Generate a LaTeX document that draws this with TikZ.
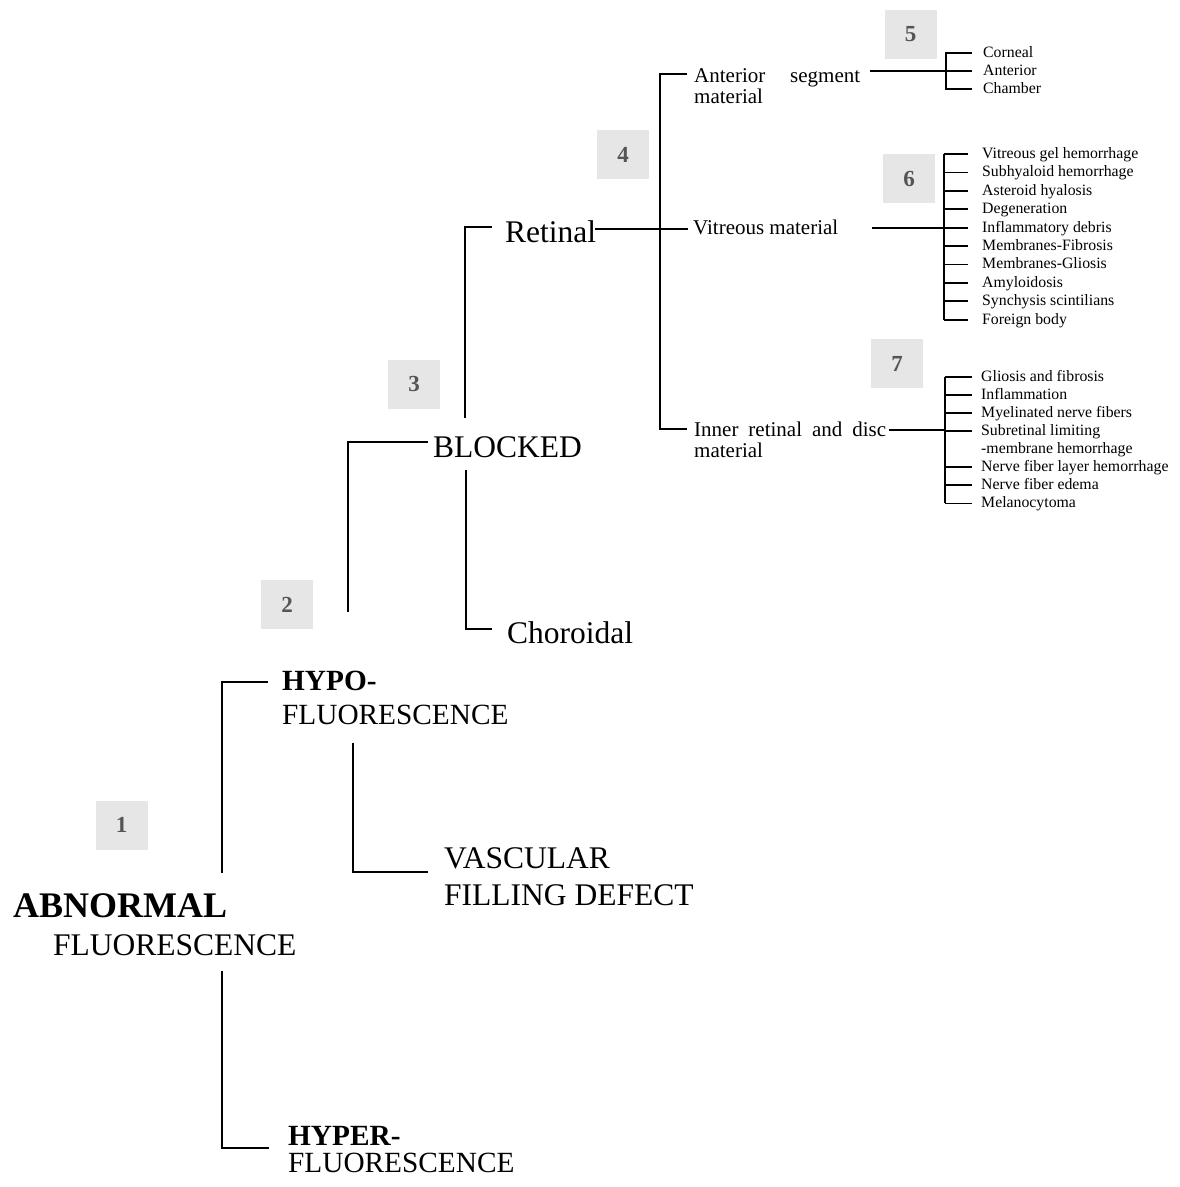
\documentclass[tikz,border=0pt]{standalone}
\usepackage{fontspec}
\setmainfont{Liberation Serif}
\definecolor{boxgray}{RGB}{230,230,230}
\definecolor{numgray}{RGB}{85,85,85}
\tikzset{
  conn/.style={line width=1.8pt, line join=miter},
  big/.style={anchor=base west, inner sep=0pt, font=\fontsize{31.5}{36}\selectfont},
  bigb/.style={anchor=base west, inner sep=0pt, font=\bfseries\fontsize{36}{40}\selectfont},
  hf/.style={anchor=base west, inner sep=0pt, font=\fontsize{29.3}{34}\selectfont},
  hfb/.style={anchor=base west, inner sep=0pt, font=\bfseries\fontsize{29.3}{34}\selectfont},
  med/.style={anchor=base west, inner sep=0pt, font=\fontsize{21}{25}\selectfont},
  small/.style={anchor=base west, inner sep=0pt, font=\fontsize{15.8}{18}\selectfont},
  numbox/.style={fill=boxgray, minimum width=52pt, minimum height=49pt, inner sep=0pt,
    text=numgray, font=\bfseries\fontsize{23}{23}\selectfont}
}
\begin{document}
\begin{tikzpicture}[x=1pt,y=-1pt]
\useasboundingbox[fill=white] (0,0) rectangle (1180,1187);

% number boxes
\node[numbox] (n1) at (121.5,825) {1};
\node[numbox] (n2) at (287,604.5) {2};
\node[numbox] (n3) at (414,384) {3};
\node[numbox] (n4) at (623,154.5) {4};
\node[numbox] (n5) at (910.5,34.5) {5};
\node[numbox] (n6) at (909,178.5) {6};
\node[numbox] (n7) at (897,363.5) {7};

% main texts
\node[bigb] (abn) at (13,917) {ABNORMAL};
\node[big] (abnf) at (53,955) {FLUORESCENCE};
\node[hfb] (hypo) at (282,690) {HYPO-};
\node[hf] (hypof) at (282,724) {FLUORESCENCE};
\node[hfb] (hyper) at (288,1145) {HYPER-};
\node[hf] (hyperf) at (288,1172) {FLUORESCENCE};
\node[big] (vasc) at (444,868) {VASCULAR};
\node[big] (vascf) at (444,905) {FILLING DEFECT};
\node[big] (blocked) at (433,457) {BLOCKED};
\node[big] (retinal) at (505,242) {Retinal};
\node[big] (choroidal) at (507,643) {Choroidal};
\node[med] (ant) at (694,82) {\makebox[166pt][s]{Anterior segment}};
\node[med] (antm) at (694,103.5) {material};
\node[med] (vit) at (693,234) {Vitreous material};
\node[med] (inner) at (694,436) {\makebox[192pt][s]{Inner retinal and disc}};
\node[med] (innerm) at (694,457) {material};

% level 1 connectors
\coordinate (j1a) at (222,873); \coordinate (j1b) at (268,682);
\draw[conn] (j1a) |- (j1b);
\coordinate (j1c) at (222,971); \coordinate (j1d) at (269,1148);
\draw[conn] (j1c) |- (j1d);
% hypo -> vascular
\coordinate (j2a) at (353,743); \coordinate (j2b) at (428,872);
\draw[conn] (j2a) |- (j2b);
% hypo -> blocked
\coordinate (j3a) at (348,612); \coordinate (j3b) at (428,442);
\draw[conn] (j3a) |- (j3b);
% blocked -> retinal / choroidal
\coordinate (j4a) at (465,418); \coordinate (j4b) at (492,227);
\draw[conn] (j4a) |- (j4b);
\coordinate (j5a) at (466,470); \coordinate (j5b) at (492,629);
\draw[conn] (j5a) |- (j5b);
% retinal -> level 4
\coordinate (r1) at (595,229); \coordinate (r2) at (688,229);
\draw[conn] (r1) -- (r2);
\coordinate (r3) at (687,74); \coordinate (r4) at (660,429); \coordinate (r5) at (687,429);
\draw[conn] (r3) -| (r4) -- (r5);

% anterior segment items
\coordinate (a1) at (870,71); \coordinate (a2) at (946,71);
\draw[conn] (a1) -- (a2);
\draw[conn] (972,53) -| (946,89) -- (972,89);
\draw[conn] (946,71) -- (972,71);
\node[small] (c1) at (983,57.5) {Corneal};
\node[small] (c2) at (983,75.5) {Anterior};
\node[small] (c3) at (983,93.5) {Chamber};

% vitreous items
\coordinate (v0) at (872,228); \coordinate (vj) at (944,228);
\draw[conn] (v0) -- (vj);
\draw[conn] (944,154) -- (944,319.6);
\foreach \t [count=\i from 0] in {Vitreous gel hemorrhage, Subhyaloid hemorrhage, Asteroid hyalosis, Degeneration, Inflammatory debris, Membranes-Fibrosis, Membranes-Gliosis, Amyloidosis, Synchysis scintilians, Foreign body}{
  \pgfmathsetmacro{\yy}{154+18.4*\i}
  \draw[conn] (944,\yy) -- (968,\yy);
  \node[small] (v\i) at (982,\yy+4.5) {\t};
}

% inner retinal items
\coordinate (i0) at (889,430); \coordinate (ij) at (945,430);
\draw[conn] (i0) -- (ij);
\draw[conn] (945,376.7) -- (945,503.4);
\foreach \t/\k in {Gliosis and fibrosis/0, Inflammation/1, Myelinated nerve fibers/2, Subretinal limiting/3, Nerve fiber layer hemorrhage/5, Nerve fiber edema/6, Melanocytoma/7}{
  \pgfmathsetmacro{\yy}{376.7+18.1*\k}
  \draw[conn] (945,\yy) -- (972,\yy);
  \node[small] (in\k) at (981,\yy+4.5) {\t};
}
\node[small] (in4) at (981,376.7+18.1*4+4.5) {-membrane hemorrhage};
\end{tikzpicture}
\end{document}
